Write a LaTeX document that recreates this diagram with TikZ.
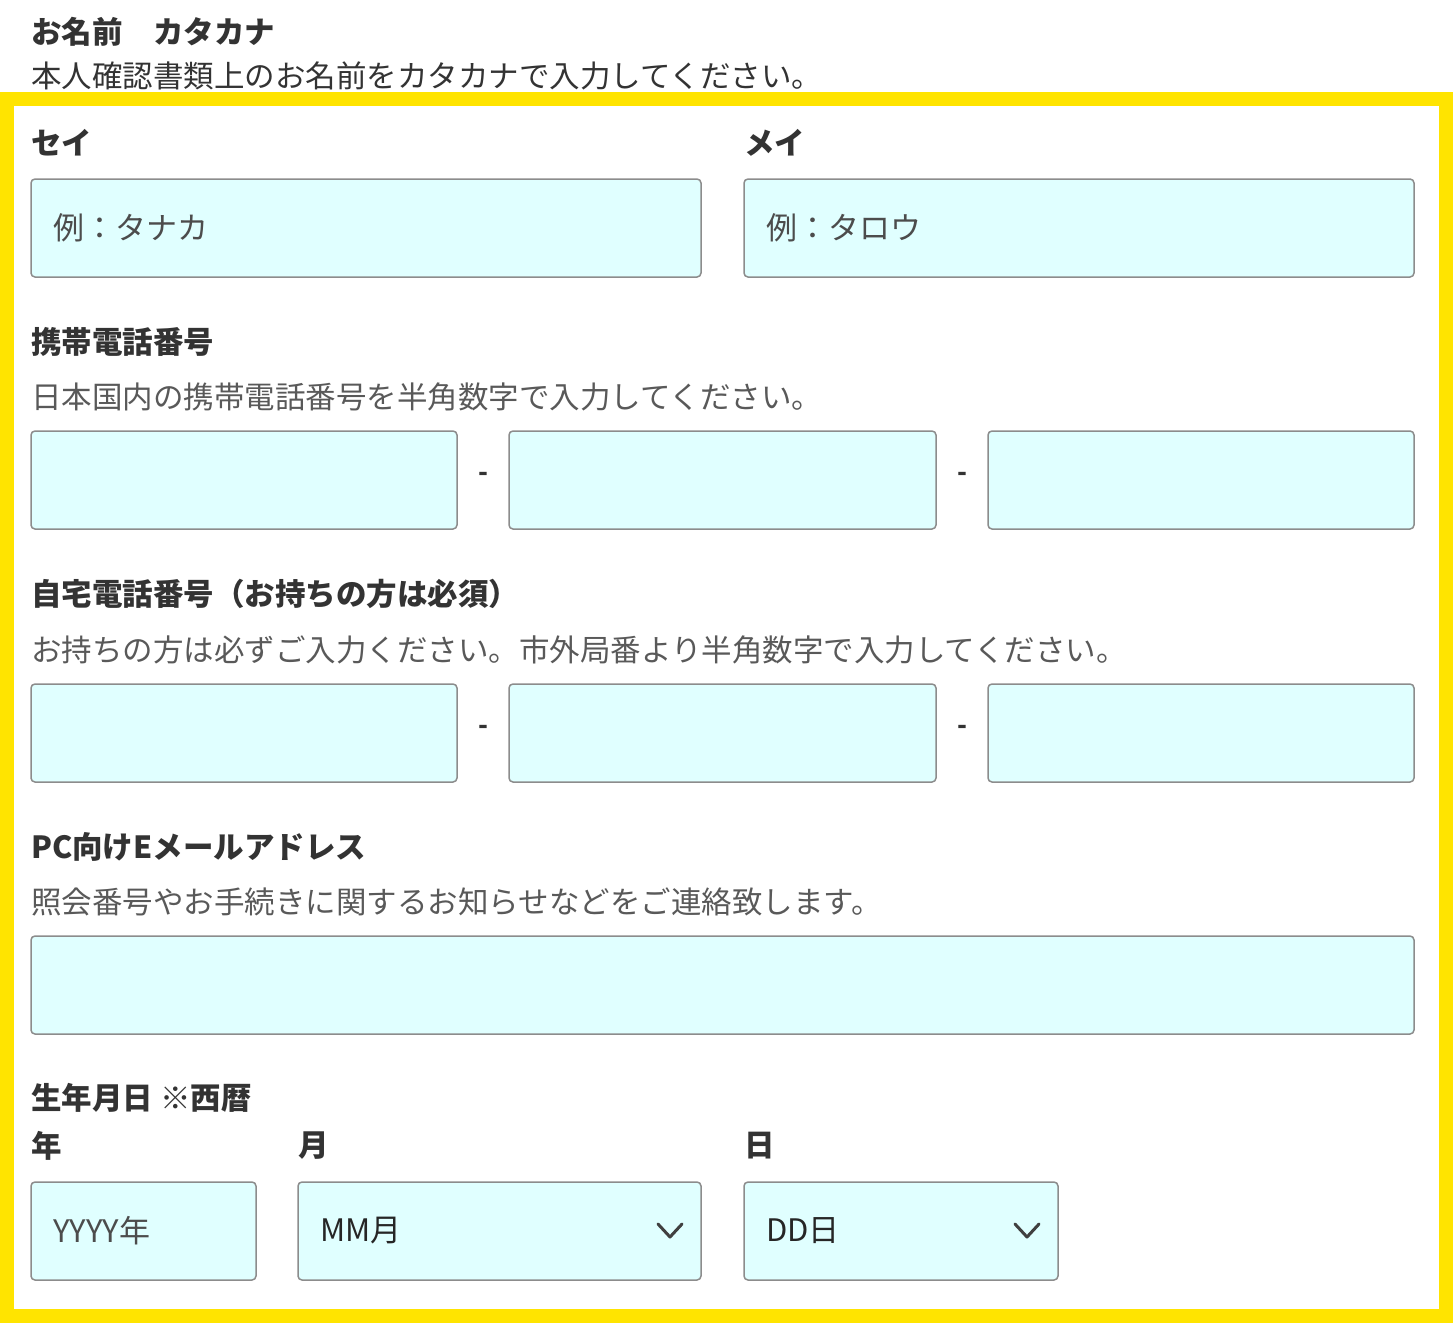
\documentclass[tikz,border=0pt]{standalone}
\usepackage{fontspec}
\setmainfont{Noto Sans CJK JP}
\definecolor{fldc}{HTML}{E0FFFF}
\begin{document}
\begin{tikzpicture}[x=1pt,y=-1pt,
  fld/.style={draw=black!45,fill=fldc,line width=1.5pt,rounded corners=4pt},
  hd/.style={anchor=west,inner sep=0,font=\fontsize{30.5}{31}\selectfont\bfseries,text=black!80},
  sub/.style={anchor=west,inner sep=0,font=\fontsize{30.5}{31}\selectfont,text=black!65},
  ph/.style={anchor=west,inner sep=0,font=\fontsize{31}{32}\selectfont,text=black!70},
  dsh/.style={inner sep=0,font=\fontsize{26}{26}\selectfont\bfseries,text=black!80},
  chev/.style={draw=black!75,line width=3pt,line cap=round,line join=round}]
\useasboundingbox (0,0) rectangle (1455,1323);
\draw[draw={rgb,255:red,255;green,228;blue,0},line width=14pt] (7,99) rectangle (1446,1316);
\node[hd] (t0) at (31,32) {お名前　カタカナ};
\node[sub,text=black!80] (s0) at (31,76) {本人確認書類上のお名前をカタカナで入力してください。};
\node[hd] (t1) at (31,143) {セイ};
\node[hd] (t2) at (744,143) {メイ};
\draw[fld] (31,179) rectangle (701,277);
\draw[fld] (744,179) rectangle (1414,277);
\node[ph] (p1) at (53,228) {例：タナカ};
\node[ph] (p2) at (766,228) {例：タロウ};
\node[hd] (t3) at (31,342) {携帯電話番号};
\node[sub] (s3) at (31,397) {日本国内の携帯電話番号を半角数字で入力してください。};
\foreach \y in {431,684}{
  \draw[fld] (31,\y) rectangle (457,\y+98);
  \draw[fld] (509,\y) rectangle (936,\y+98);
  \draw[fld] (988,\y) rectangle (1414,\y+98);
  \node[dsh] at (483,\y+46) {-};
  \node[dsh] at (962,\y+46) {-};
}
\node[hd] (t4) at (31,594) {自宅電話番号（お持ちの方は必須）};
\node[sub] (s4) at (31,650) {お持ちの方は必ずご入力ください。市外局番より半角数字で入力してください。};
\node[hd] (t5) at (31,847) {PC向けEメールアドレス};
\node[sub] (s5) at (31,902) {照会番号やお手続きに関するお知らせなどをご連絡致します。};
\draw[fld] (31,936) rectangle (1414,1034);
\node[hd] (t6) at (31,1098) {生年月日 ※西暦};
\node[hd] (y) at (31,1146) {年};
\node[hd] (m) at (298,1146) {月};
\node[hd] (d) at (744,1146) {日};
\draw[fld] (31,1182) rectangle (256,1280);
\draw[fld] (298,1182) rectangle (701,1280);
\draw[fld] (744,1182) rectangle (1058,1280);
\node[ph] at (53,1231) {YYYY年};
\node[ph,text=black!85] at (320,1231) {MM月};
\node[ph,text=black!85] at (766,1231) {DD日};
\draw[chev] (658,1224) -- (670,1237) -- (682,1224);
\draw[chev] (1015,1224) -- (1027,1237) -- (1039,1224);
\end{tikzpicture}
\end{document}
